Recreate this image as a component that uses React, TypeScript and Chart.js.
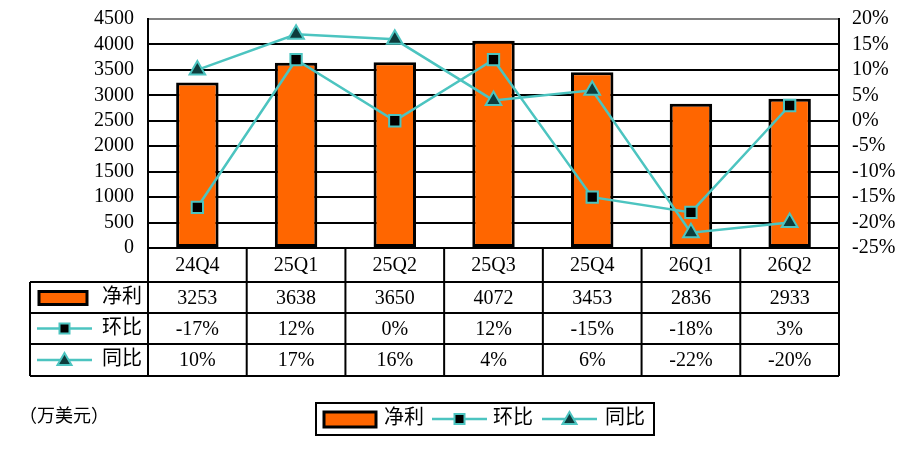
import { useEffect, useRef } from "react";
import { Chart, registerables } from "chart.js";

Chart.register(...registerables);

const quarters = ["24Q4", "25Q1", "25Q2", "25Q3", "25Q4", "26Q1", "26Q2"];
const netProfit = [3253, 3638, 3650, 4072, 3453, 2836, 2933];
const qoq = [-17, 12, 0, 12, -15, -18, 3];
const yoy = [10, 17, 16, 4, 6, -22, -20];

const seriesNames = ["净利", "环比", "同比"];
const unitLabel = "（万美元）";

const ORANGE = "#FF6600";
const TEAL = "#4CC4C0";
const TRI_FILL = "#0E3C3C";
const FONT = "'Liberation Serif', 'Noto Sans CJK SC', serif";

function barKey(ctx: CanvasRenderingContext2D, x: number, y: number, w: number, h: number) {
  ctx.fillStyle = ORANGE;
  ctx.fillRect(x, y, w, h);
  ctx.strokeStyle = "#000";
  ctx.lineWidth = 3;
  ctx.strokeRect(x, y, w, h);
}

function lineKey(ctx: CanvasRenderingContext2D, x1: number, x2: number, y: number, marker: "rect" | "triangle") {
  ctx.strokeStyle = TEAL;
  ctx.lineWidth = 2.5;
  ctx.beginPath();
  ctx.moveTo(x1, y);
  ctx.lineTo(x2, y);
  ctx.stroke();
  const cx = (x1 + x2) / 2;
  ctx.lineWidth = 2;
  if (marker === "rect") {
    ctx.fillStyle = "#000";
    ctx.fillRect(cx - 5, y - 5, 10, 10);
    ctx.strokeRect(cx - 5, y - 5, 10, 10);
  } else {
    ctx.fillStyle = TRI_FILL;
    ctx.beginPath();
    ctx.moveTo(cx, y - 7);
    ctx.lineTo(cx + 7, y + 5);
    ctx.lineTo(cx - 7, y + 5);
    ctx.closePath();
    ctx.fill();
    ctx.stroke();
  }
}

const tablePlugin = {
  id: "dataTable",
  afterDraw(chart: any) {
    const { ctx, chartArea } = chart;
    const xs = chart.scales.x;
    const n = quarters.length;
    const edges = [chartArea.left];
    for (let i = 0; i < n - 1; i++) {
      edges.push((xs.getPixelForValue(i) + xs.getPixelForValue(i + 1)) / 2);
    }
    edges.push(chartArea.right);
    const top = chartArea.bottom;
    const rows = [top, top + 34, top + 65, top + 96, top + 128];
    const tableLeft = 30;

    ctx.save();
    ctx.strokeStyle = "#000";
    ctx.lineWidth = 2;
    ctx.beginPath();
    ctx.moveTo(chartArea.left, rows[0]);
    ctx.lineTo(chartArea.right, rows[0]);
    for (let r = 1; r < rows.length; r++) {
      ctx.moveTo(tableLeft, rows[r]);
      ctx.lineTo(chartArea.right, rows[r]);
    }
    for (const e of edges) {
      ctx.moveTo(e, rows[0]);
      ctx.lineTo(e, rows[4]);
    }
    ctx.moveTo(tableLeft, rows[1]);
    ctx.lineTo(tableLeft, rows[4]);
    ctx.stroke();

    ctx.fillStyle = "#000";
    ctx.font = `20px ${FONT}`;
    ctx.textAlign = "center";
    ctx.textBaseline = "middle";
    const rowValues = [
      quarters,
      netProfit.map(v => String(v)),
      qoq.map(v => v + "%"),
      yoy.map(v => v + "%"),
    ];
    rowValues.forEach((vals, r) => {
      const cy = (rows[r] + rows[r + 1]) / 2 + 1;
      vals.forEach((v, i) => {
        ctx.fillText(v, xs.getPixelForValue(i), cy);
      });
    });

    // row headers with keys
    const c1 = (rows[1] + rows[2]) / 2;
    const c2 = (rows[2] + rows[3]) / 2;
    const c3 = (rows[3] + rows[4]) / 2;
    barKey(ctx, 39, c1 - 6, 48, 13);
    lineKey(ctx, 37, 92, c2, "rect");
    lineKey(ctx, 37, 92, c3, "triangle");
    ctx.fillStyle = "#000";
    ctx.textAlign = "left";
    ctx.fillText(seriesNames[0], 102, c1);
    ctx.fillText(seriesNames[1], 102, c2);
    ctx.fillText(seriesNames[2], 102, c3);

    // legend box
    ctx.strokeStyle = "#000";
    ctx.lineWidth = 2;
    ctx.strokeRect(316, 403, 338, 32);
    const ly = 419;
    barKey(ctx, 324, ly - 7, 52, 15);
    lineKey(ctx, 432, 487, ly, "rect");
    lineKey(ctx, 542, 597, ly, "triangle");
    ctx.fillStyle = "#000";
    ctx.fillText(seriesNames[0], 384, ly);
    ctx.fillText(seriesNames[1], 493, ly);
    ctx.fillText(seriesNames[2], 605, ly);

    ctx.font = `18px ${FONT}`;
    ctx.fillText(unitLabel, 19, 417);
    ctx.restore();
  },
};

export default function App() {
  const chartRef = useRef<HTMLCanvasElement>(null);
  const chartInstance = useRef<Chart | null>(null);

  useEffect(() => {
    if (!chartRef.current) return;
    if (chartInstance.current) {
      chartInstance.current.destroy();
    }
    const ctx = chartRef.current.getContext("2d");
    if (!ctx) return;

    const tickFont = { family: FONT, size: 20 };

    chartInstance.current = new Chart(ctx, {
      type: "bar",
      data: {
        labels: quarters,
        datasets: [
          {
            type: "line",
            label: seriesNames[1],
            data: qoq,
            yAxisID: "y1",
            borderColor: TEAL,
            borderWidth: 2.5,
            tension: 0,
            pointStyle: "rect",
            pointRadius: 8,
            pointBackgroundColor: "#000",
            pointBorderColor: TEAL,
            pointBorderWidth: 2,
            order: 0,
          },
          {
            type: "line",
            label: seriesNames[2],
            data: yoy,
            yAxisID: "y1",
            borderColor: TEAL,
            borderWidth: 2.5,
            tension: 0,
            pointStyle: "triangle",
            pointRadius: 9,
            pointBackgroundColor: TRI_FILL,
            pointBorderColor: TEAL,
            pointBorderWidth: 2,
            order: 0,
          },
          {
            type: "bar",
            label: seriesNames[0],
            data: netProfit,
            yAxisID: "y",
            backgroundColor: ORANGE,
            borderColor: "#000",
            borderWidth: 3,
            borderSkipped: false,
            barPercentage: 0.43,
            categoryPercentage: 1,
            order: 1,
          },
        ],
      } as any,
      options: {
        responsive: true,
        maintainAspectRatio: false,
        animation: false,
        layout: { padding: { top: 19, bottom: 206, left: 0, right: 0 } },
        plugins: {
          legend: { display: false },
          tooltip: { enabled: false },
        },
        scales: {
          x: { display: false, offset: true },
          y: {
            position: "left",
            min: 0,
            max: 4500,
            ticks: {
              stepSize: 500,
              autoSkip: false,
              color: "#000",
              font: tickFont,
              padding: 14,
              callback: (v: any) => String(v),
            },
            grid: {
              color: (c: any) => (c.tick && c.tick.value === 4500 ? "#808080" : "#000"),
              lineWidth: 2,
              drawTicks: false,
            },
            border: { color: "#000", width: 2 },
            afterFit: (s: any) => {
              s.width = 148;
              s.paddingTop = 0;
              s.paddingBottom = 0;
            },
          },
          y1: {
            position: "right",
            min: -25,
            max: 20,
            ticks: {
              stepSize: 5,
              autoSkip: false,
              color: "#000",
              font: tickFont,
              padding: 13,
              callback: (v: any) => v + "%",
            },
            grid: { display: false, drawTicks: false },
            border: { color: "#000", width: 2 },
            afterFit: (s: any) => {
              s.width = 75;
              s.paddingTop = 0;
              s.paddingBottom = 0;
            },
          },
        },
      } as any,
      plugins: [tablePlugin],
    });

    return () => {
      if (chartInstance.current) {
        chartInstance.current.destroy();
        chartInstance.current = null;
      }
    };
  }, []);

  return (
    <div style={{ position: "fixed", left: 0, top: 0, width: 914, height: 454, background: "#fff" }}>
      <canvas ref={chartRef} />
    </div>
  );
}
